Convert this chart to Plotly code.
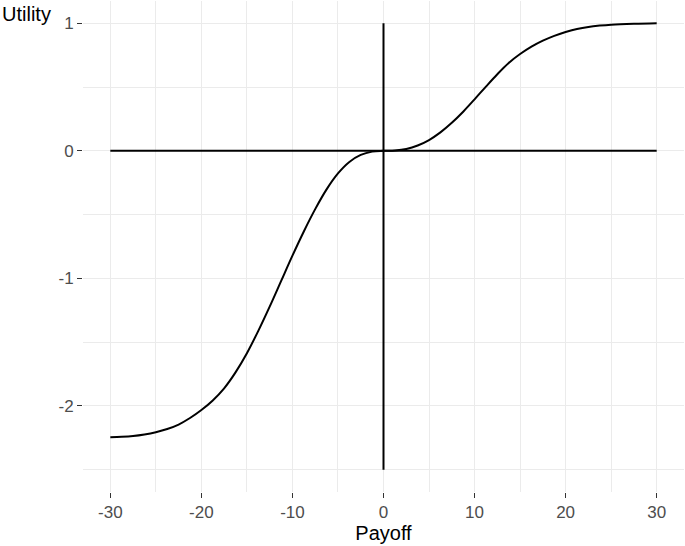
import plotly.graph_objects as go

# Utility curve (payoff -> utility)
payoff_loss = [-30, -28.75, -27.5, -26.25, -25, -23.75, -22.5, -21.25, -20, -18.75, -17.5, -16.25,
               -15, -13.75, -12.5, -11.25, -10, -8.75, -7.5, -6.25, -5, -3.75, -2.5, -1.25, 0]
utility_loss = [-2.245, -2.242, -2.236, -2.224, -2.206, -2.181, -2.146, -2.095, -2.032, -1.957, -1.862, -1.737,
                -1.587, -1.412, -1.222, -1.022, -0.822, -0.632, -0.457, -0.302, -0.177, -0.087, -0.032, -0.006, 0]
payoff_gain = [0, 1.25, 2.5, 3.75, 5, 6.25, 7.5, 8.75, 10, 11.25, 12.5, 13.75, 15,
               16.25, 17.5, 18.75, 20, 21.25, 22.5, 23.75, 25, 27.5, 30]
utility_gain = [0, 0.003, 0.015, 0.042, 0.085, 0.145, 0.22, 0.307, 0.404, 0.504, 0.601, 0.689, 0.759,
                0.817, 0.864, 0.902, 0.932, 0.956, 0.972, 0.982, 0.989, 0.996, 1.0]

# reference axes lines
hline_x = [-30, 30]
hline_y = [0, 0]
vline_x = [0, 0]
vline_y = [-2.5, 1]

x_ticks = [-30, -20, -10, 0, 10, 20, 30]
y_ticks = [-2, -1, 0, 1]

FONT = "Liberation Sans, Arial, sans-serif"
LINE = dict(color="black", width=2)

fig = go.Figure()
fig.add_trace(go.Scatter(x=hline_x, y=hline_y, mode="lines", line=LINE, hoverinfo="skip"))
fig.add_trace(go.Scatter(x=vline_x, y=vline_y, mode="lines", line=LINE, hoverinfo="skip"))
fig.add_trace(go.Scatter(x=payoff_loss + payoff_gain[1:], y=utility_loss + utility_gain[1:],
                         mode="lines", line=dict(color="black", width=2, shape="spline", smoothing=1.0)))

grid = "#EBEBEB"
fig.update_layout(
    width=685, height=546,
    margin=dict(l=83, r=1, t=1, b=54),
    paper_bgcolor="white", plot_bgcolor="white",
    showlegend=False,
    font=dict(family=FONT, color="#4D4D4D", size=17),
    xaxis=dict(
        range=[-33, 33], tickvals=x_ticks, ticktext=[str(v) for v in x_ticks],
        showgrid=True, gridcolor=grid, gridwidth=1.2, zeroline=False,
        ticks="outside", ticklen=5, tickwidth=1.2, tickcolor="#333333",
        tickfont=dict(size=17, color="#4D4D4D", family=FONT),
        minor=dict(tickvals=[-25, -15, -5, 5, 15, 25], showgrid=True, gridcolor=grid, gridwidth=0.8, ticklen=0),
        title=dict(text="Payoff", font=dict(size=20, color="black", family=FONT), standoff=4),
        showline=False, automargin=False,
    ),
    yaxis=dict(
        range=[-2.675, 1.175], tickvals=y_ticks, ticktext=[str(v) for v in y_ticks],
        showgrid=True, gridcolor=grid, gridwidth=1.2, zeroline=False,
        ticks="outside", ticklen=5, tickwidth=1.2, tickcolor="#333333",
        tickfont=dict(size=17, color="#4D4D4D", family=FONT),
        minor=dict(tickvals=[-2.5, -1.5, -0.5, 0.5], showgrid=True, gridcolor=grid, gridwidth=0.8, ticklen=0),
        showline=False, automargin=False,
    ),
    annotations=[dict(text="Utility", xref="paper", yref="paper", x=-83/601, y=1,
                      xanchor="left", yanchor="top", showarrow=False, yshift=0,
                      font=dict(size=20, color="black", family=FONT))],
)

fig.write_html("out.html", config={"displayModeBar": False},
               post_script="document.body.style.margin='0';document.body.style.padding='0';")
